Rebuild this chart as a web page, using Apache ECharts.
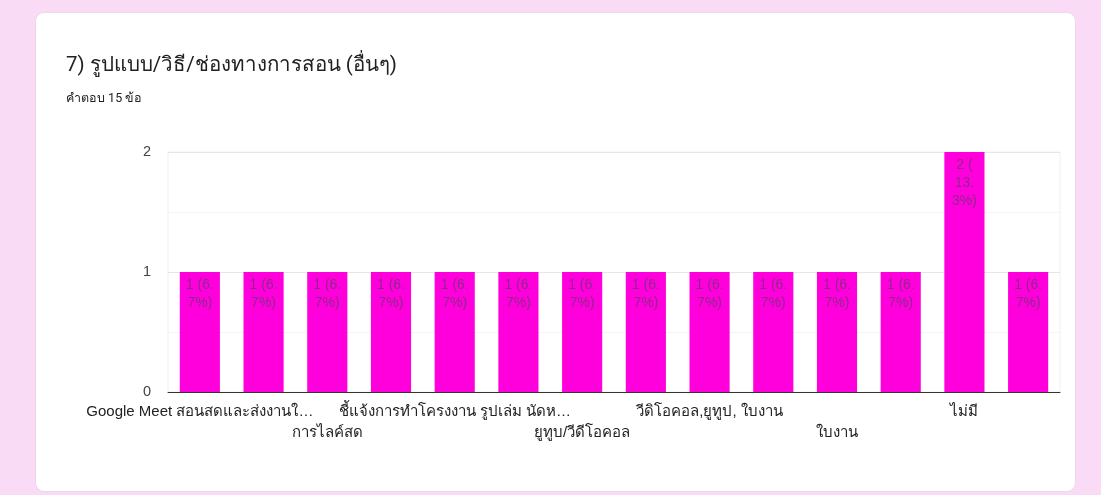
<!DOCTYPE html>
<html>
<head>
<meta charset="utf-8">
<script src="https://cdn.jsdelivr.net/npm/echarts@6/dist/echarts.min.js"></script>
<style>
  html, body { margin: 0; padding: 0; background: #f9dbf6; }
  #card { position: absolute; left: 35px; top: 12px; width: 1041px; height: 480px; background: #fff; border-radius: 9px; border: 1px solid #eed6ec; box-sizing: border-box; }
  #chart { position: absolute; left: 0; top: 0; width: 1101px; height: 495px; }
</style>
</head>
<body>
<div id="card"></div>
<div id="chart"></div>
<script>
// ---- data ----
const titleText = '7) รูปแบบ/วิธี/ช่องทางการสอน (อื่นๆ)';
const subtitleText = 'คำตอบ 15 ข้อ';
const totalResponses = 15;
const categories = [
  'Google Meet สอนสดและส่งงานใ…',
  'Zoom',
  'การไลค์สด',
  'Line',
  'ชี้แจ้งการทำโครงงาน รูปเล่ม นัดห…',
  'Facebook',
  'ยูทูบ/วีดีโอคอล',
  'ออนไลน์',
  'วีดิโอคอล,ยูทูป, ใบงาน',
  'Google Classroom',
  'ใบงาน',
  'ใบความรู้',
  'ไม่มี',
  'YouTube'
];
const counts = [1, 1, 1, 1, 1, 1, 1, 1, 1, 1, 1, 1, 2, 1];
const yTicks = [0, 1, 2];

// ---- label wrapping like the reference (max ~5 chars per line) ----
function wrapLabel(s, maxChars) {
  const tokens = s.match(/[^ (.]*[ (.]?/g).filter(t => t.length);
  const lines = [];
  let cur = '';
  tokens.forEach(t => {
    if (cur.length && (cur + t).length > maxChars) { lines.push(cur); cur = t; }
    else cur += t;
  });
  if (cur.length) lines.push(cur);
  return lines.map(l => l.trimEnd()).join('\n');
}

const chart = echarts.init(document.getElementById('chart'), null, { renderer: 'canvas' });
const baseFont = 'Arial, "Liberation Sans", "Noto Sans", sans-serif';
const xLabelStyle = { margin: 9, fontFamily: baseFont, fontSize: 15, lineHeight: 21, color: '#222', hideOverlap: false };
chart.setOption({
  backgroundColor: 'transparent',
  animation: false,
  title: [
    { text: titleText, left: 61, top: 50,
      textStyle: { fontFamily: 'Roboto, "Noto Sans", sans-serif', fontSize: 20.5, fontWeight: 'normal', color: '#202124' } },
    { text: subtitleText, left: 61, top: 87,
      textStyle: { fontFamily: 'Roboto, "Noto Sans", sans-serif', fontSize: 12.5, fontWeight: 'normal', color: '#202124' } }
  ],
  grid: { left: 168, right: 41, top: 152, bottom: 103, show: true, borderColor: '#f0f0f0', borderWidth: 1 },
  xAxis: [{
    type: 'category',
    data: categories,
    position: 'bottom',
    axisLine: { show: true, lineStyle: { color: '#333', width: 1 } },
    axisTick: { show: false },
    axisLabel: Object.assign({}, xLabelStyle, {
      interval: i => i % 4 === 0,
      showMinLabel: true
    })
  }, {
    type: 'category',
    data: categories,
    position: 'bottom',
    offset: 21,
    axisLine: { show: false },
    axisTick: { show: false },
    splitLine: { show: false },
    axisLabel: Object.assign({}, xLabelStyle, {
      interval: i => i % 4 === 2
    })
  }],
  yAxis: {
    type: 'value',
    min: yTicks[0],
    max: yTicks[yTicks.length - 1],
    interval: 1,
    axisLine: { show: false },
    axisTick: { show: false },
    axisLabel: { fontFamily: baseFont, fontSize: 14.5, color: '#444', margin: 17 },
    splitLine: { lineStyle: { color: '#e6e6e6' } },
    minorTick: { show: false, splitNumber: 2 },
    minorSplitLine: { show: true, lineStyle: { color: '#f4f4f4' } }
  },
  series: [{
    type: 'bar',
    xAxisIndex: 0,
    data: counts,
    barCategoryGap: '37%',
    itemStyle: { color: '#ff00dd' },
    label: {
      show: true,
      position: 'insideTop',
      distance: 4,
      fontFamily: baseFont,
      fontSize: 14,
      lineHeight: 18,
      color: '#8a2a88',
      formatter: p => wrapLabel(p.value + ' (' + (p.value / totalResponses * 100).toFixed(1) + '%)', 5)
    }
  }]
});
</script>
</body>
</html>
